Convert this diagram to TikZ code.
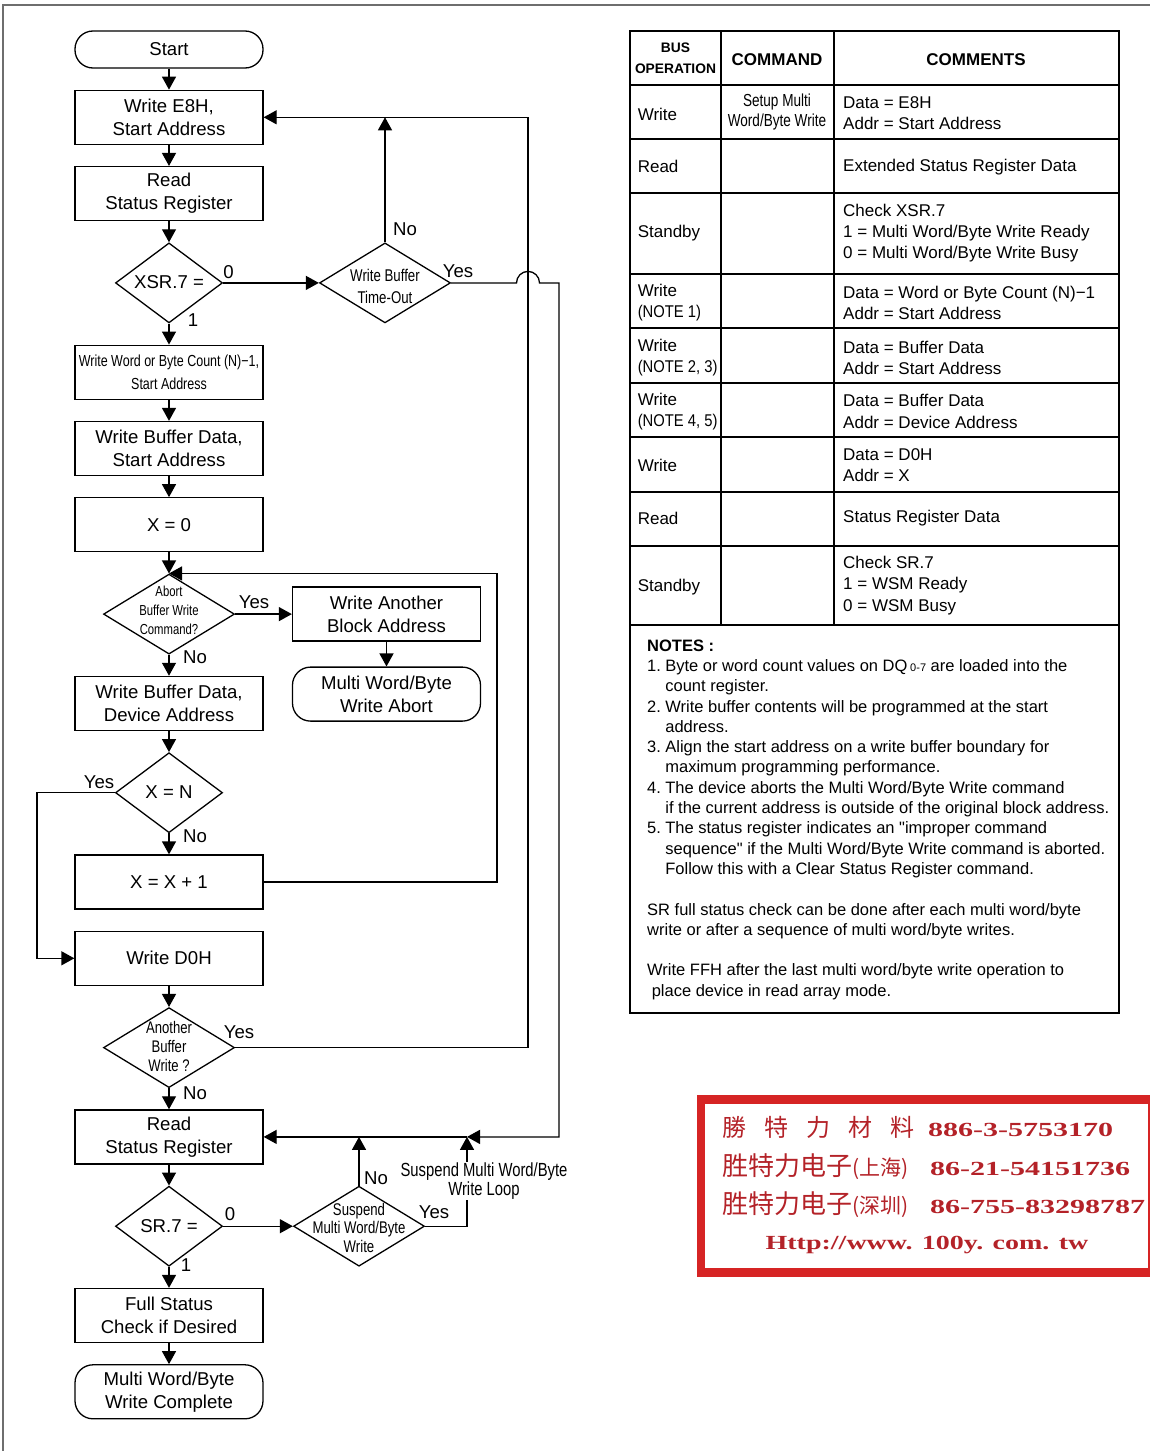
\documentclass[tikz,border=0pt]{standalone}
\usepackage{fontspec}
\setmainfont{Liberation Sans}
\newfontfamily\narrowfont{Liberation Sans}[FakeStretch=0.78]
\newfontfamily\semifont{Liberation Sans}[FakeStretch=0.87]
\newfontfamily\cjkfont{Noto Sans CJK SC}
\newfontfamily\stampfont{Liberation Serif}[FakeStretch=1.5]
\newfontfamily\urlfont{Liberation Serif}[FakeStretch=1.4]
\usepackage{xcolor}
\usetikzlibrary{shapes.geometric,arrows.meta,positioning,calc}

\definecolor{stampred}{RGB}{214,36,36}
\definecolor{stampink}{RGB}{180,34,40}
\definecolor{framegray}{RGB}{110,110,110}

\newcommand{\fmain}{\fontsize{18.6}{23}\selectfont}
\newcommand{\ftab}{\fontsize{17}{21.3}\selectfont}
\newcommand{\fnote}{\fontsize{16.5}{20.3}\selectfont}
\newcommand{\fnarrow}[2]{\narrowfont\fontsize{#1}{#2}\selectfont}
\newcommand{\dtxt}[2][0pt]{\smash{\makebox[0pt]{\raisebox{\dimexpr-0.3em-#1\relax}{\begin{tabular}{@{}c@{}}#2\end{tabular}}}}}
\newcommand{\nitem}[1]{\makebox[1.1em][l]{#1}}
\newcommand{\nind}{\hspace*{1.1em}}
\newcommand{\notex}[1]{{\semifont(NOTE #1)}}
\newcommand{\stampnum}{\stampfont\bfseries\fontsize{20}{20}\selectfont}

\begin{document}
\begin{tikzpicture}[x=1pt, y=-1pt,
  box/.style={rectangle, draw, line width=1.3pt, minimum width=188pt,
    minimum height=54pt, inner sep=0pt, align=center, font=\fmain},
  term/.style={box, rounded corners=18pt},
  decision/.style={diamond, draw, line width=1.3pt, minimum width=107pt,
    minimum height=80pt, inner sep=0pt, font=\fmain},
  wdecision/.style={decision, minimum width=131pt},
  lbl/.style={font=\fmain, inner sep=0pt},
  cell/.style={font=\ftab, inner sep=0pt, align=left, anchor=west},
  head/.style={font=\bfseries\fontsize{17}{21}\selectfont, inner sep=0pt, align=center},
  stamptxt/.style={text=stampink, inner sep=0pt, anchor=west},
  arrow/.style={-{Triangle[length=13pt,width=14pt]}, line width=1.3pt},
  conn/.style={line width=1.3pt},
  node distance=21pt
]
\useasboundingbox (0,0) rectangle (1150,1451);

% outer frame
\draw[framegray, line width=2pt] (1150,5) -- (3,5) -- (3,1451);

% main column
\node[term, minimum height=37pt] (start) at (169,49.5) {Start};
\node[box, below=of start] (e8h) {Write E8H,\\Start Address};
\node[box, below=of e8h] (rsr) {Read\\Status Register};
\node[decision, below=of rsr] (xsr) {\dtxt{XSR.7 =}};
\node[box, below=of xsr, font=\fnarrow{16}{23}] (cnt) {Write Word or Byte Count (N)−1,\\Start Address};
\node[box, below=of cnt] (wbs) {Write Buffer Data,\\Start Address};
\node[box, below=of wbs] (x0) {X = 0};
\node[wdecision, below=of x0, font=\fnarrow{14.5}{19}] (abort) {\dtxt[-3pt]{Abort\\Buffer Write\\Command?}};
\node[box, below=of abort] (wbd) {Write Buffer Data,\\Device Address};
\node[decision, below=of wbd] (xn) {\dtxt{X = N}};
\node[box, below=of xn] (xx1) {X = X + 1};
\node[box, below=of xx1] (d0h) {Write D0H};
\node[wdecision, below=of d0h, font=\fnarrow{16.8}{19}] (another) {\dtxt{Another\\Buffer\\Write ?}};
\node[box, below=of another] (rsr2) {Read\\Status Register};
\node[decision, below=of rsr2] (sr7) {\dtxt{SR.7 =}};
\node[box, below=of sr7] (full) {Full Status\\Check if Desired};
\node[term, below=of full] (done) {Multi Word/Byte\\Write Complete};

% side branches
\node[wdecision, right=95.7pt of xsr, font=\fnarrow{17}{22}] (tout) {\dtxt[4pt]{Write Buffer\\Time-Out}};
\node[box, right=56.7pt of abort] (wab) {Write Another\\Block Address};
\node[term, below=24.7pt of wab] (wabort) {Multi Word/Byte\\Write Abort};
\node[wdecision, right=69.7pt of sr7, font=\fnarrow{16.9}{18.5}] (susp) {\dtxt[3pt]{Suspend\\Multi Word/Byte\\Write}};

% return buses
\coordinate (busl) at (37,0);
\coordinate (busa) at (497,0);
\coordinate (buss) at (467,0);
\coordinate (busb) at (528,0);
\coordinate (busc) at (559,0);

\draw[arrow] (start) -- (e8h);
\draw[arrow] (e8h) -- (rsr);
\draw[arrow] (rsr) -- (xsr);
\draw[arrow] (xsr) -- (cnt);
\draw[arrow] (cnt) -- (wbs);
\draw[arrow] (wbs) -- (x0);
\draw[arrow] (x0) -- (abort);
\draw[arrow] (abort) -- (wbd);
\draw[arrow] (wbd) -- (xn);
\draw[arrow] (xn) -- (xx1);
\draw[arrow] (d0h) -- (another);
\draw[arrow] (another) -- (rsr2);
\draw[arrow] (rsr2) -- (sr7);
\draw[arrow] (sr7) -- (full);
\draw[arrow] (full) -- (done);

\draw[arrow] (xsr) -- (tout);
\draw[arrow] (tout.north) -- (tout.north |- e8h.east);
\draw[arrow] (another.east) -- (another.east -| busb) -- (busb |- e8h.east) -- (e8h.east);
\draw[arrow] (tout.east) -- ($(busb |- tout.east)+(-11.5,0)$)
  arc[start angle=180, end angle=0, radius=11.5pt]
  -- (busc |- tout.east) -- (busc |- rsr2.east) -- (buss |- rsr2.east);
\draw[arrow] (buss |- rsr2.east) -- (rsr2.east);
\draw[arrow] (sr7) -- (susp);
\draw[arrow] (susp.north) -- (susp.north |- rsr2.east);
\draw[arrow] (susp.east) -- (susp.east -| buss) -- (buss |- rsr2.east);
\draw[arrow] (abort) -- (wab);
\draw[arrow] (wab) -- (wabort);
\draw[arrow] (xn.west) -- (xn.west -| busl) -- (busl |- d0h.west) -- (d0h.west);
\draw[arrow] (xx1.east) -- (xx1.east -| busa) -- (busa |- abort.north) -- (abort.north);

\node[font=\fnarrow{19}{19}, fill=white, inner sep=1pt, align=center] (susplbl) at (484,1181) {Suspend Multi Word/Byte\\Write Loop};

% branch labels
\node[lbl] (xsr0) at (228.5,271.7) {0};
\node[lbl] (xsr1) at (193,320) {1};
\node[lbl] (toutno) at (405,229) {No};
\node[lbl] (toutyes) at (458,271) {Yes};
\node[lbl] (abortyes) at (254,602) {Yes};
\node[lbl] (abortno) at (195,657) {No};
\node[lbl] (xnyes) at (99,782) {Yes};
\node[lbl] (xnno) at (195,836) {No};
\node[lbl] (anotheryes) at (239,1032) {Yes};
\node[lbl] (anotherno) at (195,1093) {No};
\node[lbl] (sr0) at (230,1214) {0};
\node[lbl] (sr1) at (186,1265) {1};
\node[lbl] (suspno) at (376,1178) {No};
\node[lbl] (suspyes) at (434,1212) {Yes};

% command table
\draw[line width=2pt] (630,31) rectangle (1118.5,1013);
\draw[conn] (630,85) -- (1118.5,85) (630,139) -- (1118.5,139) (630,193) -- (1118.5,193)
  (630,274) -- (1118.5,274) (630,328) -- (1118.5,328) (630,383) -- (1118.5,383)
  (630,437) -- (1118.5,437) (630,492) -- (1118.5,492) (630,546) -- (1118.5,546);
\draw[line width=1.8pt] (630,625) -- (1118.5,625);
\draw[conn] (721,31) -- (721,625) (834,31) -- (834,625);

\node[head, font=\bfseries\fontsize{13.8}{21}\selectfont] (hbus) at (675.5,57.8) {BUS\\OPERATION};
\node[head] (hcmd) at (777,59.5) {COMMAND};
\node[head] (hcom) at (976,59.5) {COMMENTS};

\node[cell] (op1) at (637.6,114) {Write};
\node[cell] (op2) at (637.6,166.7) {Read};
\node[cell] (op3) at (637.6,233.3) {Standby};
\node[cell] (op4) at (637.6,302.5) {Write\\\notex{1}};
\node[cell] (op5) at (637.6,357.8) {Write\\\notex{2, 3}};
\node[cell] (op6) at (637.6,411.5) {Write\\\notex{4, 5}};
\node[cell] (op7) at (637.6,465) {Write};
\node[cell] (op8) at (637.6,518.3) {Read};
\node[cell] (op9) at (637.6,586.7) {Standby};

\node[inner sep=0pt, align=center, font=\fnarrow{17.4}{20.6}] (cmd1) at (777,112) {Setup Multi\\Word/Byte Write};

\node[cell] (cm1) at (843,113.3) {Data = E8H\\Addr = Start Address};
\node[cell] (cm2) at (843,166.7) {Extended Status Register Data};
\node[cell] (cm3) at (843,233.3) {Check XSR.7\\1 = Multi Word/Byte Write Ready\\0 = Multi Word/Byte Write Busy};
\node[cell] (cm4) at (843,302.8) {Data = Word or Byte Count (N)−1\\Addr = Start Address};
\node[cell] (cm5) at (843,357.8) {Data = Buffer Data\\Addr = Start Address};
\node[cell] (cm6) at (843,411.5) {Data = Buffer Data\\Addr = Device Address};
\node[cell] (cm7) at (843,465.3) {Data = D0H\\Addr = X};
\node[cell] (cm8) at (843,518.3) {Status Register Data};
\node[cell] (cm9) at (843,585.5) {Check SR.7\\1 = WSM Ready\\0 = WSM Busy};

% notes
\node[font=\fnote, inner sep=0pt, align=left, anchor=north west] (notes) at (647,636.7) {%
\strut\textbf{NOTES :}\\
\nitem{1.}Byte or word count values on DQ\,\raisebox{-0.5pt}{\fontsize{11}{11}\selectfont 0-7} are loaded into the\\
\nind count register.\\
\nitem{2.}Write buffer contents will be programmed at the start\\
\nind address.\\
\nitem{3.}Align the start address on a write buffer boundary for\\
\nind maximum programming performance.\\
\nitem{4.}The device aborts the Multi Word/Byte Write command\\
\nind if the current address is outside of the original block address.\\
\nitem{5.}The status register indicates an \textquotedbl improper command\\
\nind sequence\textquotedbl{} if the Multi Word/Byte Write command is aborted.\\
\nind Follow this with a Clear Status Register command.\\[20.3pt]
SR full status check can be done after each multi word/byte\\
write or after a sequence of multi word/byte writes.\\[20.3pt]
Write FFH after the last multi word/byte write operation to\\
\ place device in read array mode.};

% distributor stamp
\fill[white] (697,1095) rectangle (1150,1277);
\draw[stampred, line width=8.5pt] (701,1099.5) rectangle (1152,1272.5);
\node[stamptxt] (st1) at (722,1127) {\makebox[206pt][l]{\cjkfont\fontsize{24}{24}\selectfont 勝\hspace{18pt}特\hspace{18pt}力\hspace{18pt}材\hspace{18pt}料}\stampnum 886-3-5753170};
\node[stamptxt] (st2) at (722,1167) {\makebox[208pt][l]{\cjkfont\fontsize{26}{26}\selectfont 胜特力电子{\fontsize{21}{21}\selectfont(上海)}}\stampnum 86-21-54151736};
\node[stamptxt] (st3) at (722,1205) {\makebox[208pt][l]{\cjkfont\fontsize{26}{26}\selectfont 胜特力电子{\fontsize{21}{21}\selectfont(深圳)}}\stampnum 86-755-83298787};
\node[stamptxt, anchor=center] (st4) at (927,1245) {\urlfont\bfseries\fontsize{20}{20}\selectfont Http://www. 100y. com. tw};

\end{tikzpicture}
\end{document}
